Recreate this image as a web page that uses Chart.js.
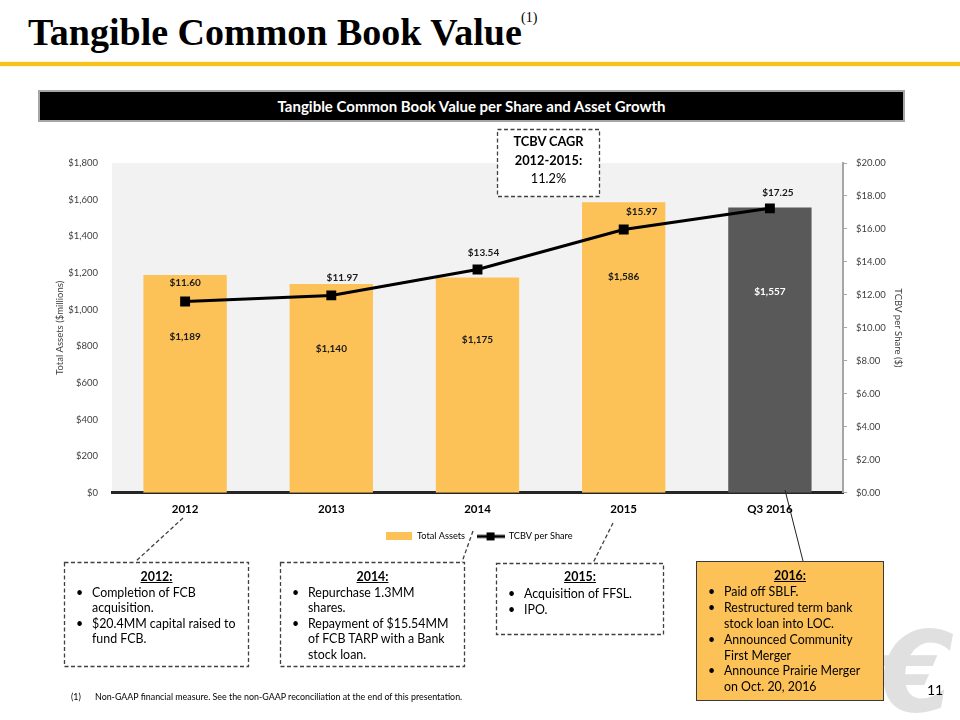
<!DOCTYPE html>
<html>
<head>
<meta charset="utf-8">
<script src="https://cdn.jsdelivr.net/npm/chart.js@4.4.1/dist/chart.umd.min.js"></script>
<style>
html,body{margin:0;padding:0;background:#fff;}
#page{position:relative;width:960px;height:720px;overflow:hidden;font-family:Lato,'Open Sans',sans-serif;color:#000;}
.abs{position:absolute;}
#title{left:28px;top:13px;font-family:'Liberation Serif',serif;font-weight:bold;font-size:38px;line-height:38px;white-space:nowrap;}
#titleSup{left:521px;top:11px;font-family:'Liberation Serif',serif;font-size:14px;line-height:14px;}
#rule{left:0;top:62px;width:960px;height:4px;background:#F6C31C;box-shadow:0 0 2px rgba(246,195,28,0.6);}
#header{left:38px;top:90px;width:863px;height:28px;background:#000;border:2px solid #a6a6a6;color:#fff;font-weight:bold;font-size:15px;text-align:center;line-height:28px;}
#chartWrap{left:0;top:140px;width:960px;height:420px;}
#overlay{left:0;top:0;}
#cagr{left:497px;top:132px;width:103px;text-align:center;font-size:12.8px;line-height:18.5px;}
.note{position:absolute;font-size:12.4px;line-height:15.6px;}
.nt{text-align:center;font-weight:bold;text-decoration:underline;}
.li{position:relative;padding-left:28px;white-space:nowrap;}
.li .b{position:absolute;left:12px;top:0;}
#foot{left:71px;top:691px;font-size:8.9px;line-height:12px;white-space:nowrap;}
#foot span{display:inline-block;width:24px;}
#pnum{left:920px;top:682px;width:30px;text-align:center;font-size:14px;line-height:16px;}
#logo{left:876px;top:616px;font-family:'DejaVu Sans',sans-serif;font-weight:bold;font-style:italic;font-size:112px;line-height:112px;color:#e0e0e0;}
</style>
</head>
<body>
<div id="page">
  <div id="title" class="abs">Tangible Common Book Value</div>
  <div id="titleSup" class="abs">(1)</div>
  <div id="rule" class="abs"></div>
  <div id="header" class="abs">Tangible Common Book Value per Share and Asset Growth</div>
  <div id="logo" class="abs">€</div>
  <div id="chartWrap" class="abs"><canvas id="chart" width="960" height="420"></canvas></div>
  <svg id="overlay" class="abs" width="960" height="720">
    <g stroke="#404040" stroke-width="1.3" stroke-dasharray="4,2.5" fill="none">
      <rect x="497.5" y="129.5" width="102" height="67" fill="#fff"/>
      <rect x="64.5" y="562.5" width="184" height="104"/>
      <rect x="280.5" y="562.5" width="184" height="104"/>
      <rect x="496.5" y="563.5" width="167" height="71"/>
      <line x1="183" y1="518" x2="135" y2="562"/>
      <line x1="473" y1="531" x2="462" y2="562"/>
      <line x1="613" y1="523" x2="593" y2="563"/>
    </g>
    <rect x="696.5" y="561.5" width="187" height="139" fill="#FCC257" stroke="#3a3a3a" stroke-width="1"/>
    <line x1="785" y1="490" x2="803" y2="561" stroke="#222" stroke-width="1"/>
  </svg>
  <div id="cagr" class="abs"><b>TCBV CAGR</b><br><b>2012-2015:</b><br>11.2%</div>
  <div class="note" style="left:64px;top:569px;width:185px;">
    <div class="nt">2012:</div>
    <div class="li"><span class="b">•</span>Completion of FCB<br>acquisition.</div>
    <div class="li"><span class="b">•</span>$20.4MM capital raised to<br>fund FCB.</div>
  </div>
  <div class="note" style="left:280px;top:569px;width:185px;">
    <div class="nt">2014:</div>
    <div class="li"><span class="b">•</span>Repurchase 1.3MM<br>shares.</div>
    <div class="li"><span class="b">•</span>Repayment of $15.54MM<br>of FCB TARP with a Bank<br>stock loan.</div>
  </div>
  <div class="note" style="left:496px;top:569px;width:168px;line-height:16.5px;">
    <div class="nt">2015:</div>
    <div class="li"><span class="b">•</span>Acquisition of FFSL.</div>
    <div class="li"><span class="b">•</span>IPO.</div>
  </div>
  <div class="note" style="left:696px;top:568px;width:188px;line-height:15.9px;">
    <div class="nt">2016:</div>
    <div class="li"><span class="b">•</span>Paid off SBLF.</div>
    <div class="li"><span class="b">•</span>Restructured term bank<br>stock loan into LOC.</div>
    <div class="li"><span class="b">•</span>Announced Community<br>First Merger</div>
    <div class="li"><span class="b">•</span>Announce Prairie Merger<br>on Oct. 20, 2016</div>
  </div>
  <div id="foot" class="abs"><span>(1)</span>Non-GAAP financial measure. See the non-GAAP reconciliation at the end of this presentation.</div>
  <div id="pnum" class="abs">11</div>
</div>
<script>
// ---- data ----
const categories = ['2012', '2013', '2014', '2015', 'Q3 2016'];
const totalAssets = [1189, 1140, 1175, 1586, 1557];
const tcbvPerShare = [11.60, 11.97, 13.54, 15.97, 17.25];
const assetAxis = [0, 1800, 200];   // min, max, step
const tcbvAxis = [0, 20, 2];        // min, max, step

// ---- style ----
const ORANGE = '#FCC257';
const GRAY = '#595959';
const FONT = 'Lato';
const barColors = categories.map((c, i) => i === categories.length - 1 ? GRAY : ORANGE);

function makeSwatchBar() {
  const c = document.createElement('canvas');
  c.width = 26; c.height = 8;
  const x = c.getContext('2d');
  x.fillStyle = ORANGE; x.fillRect(0, 0, 26, 8);
  return c;
}
function makeSwatchLine() {
  const c = document.createElement('canvas');
  c.width = 28; c.height = 10;
  const x = c.getContext('2d');
  x.fillStyle = '#000';
  x.fillRect(0, 3.5, 28, 3);
  x.fillRect(10, 1, 8, 8);
  return c;
}

const plotBg = {
  id: 'plotBg',
  beforeDraw(chart) {
    const { ctx, chartArea: a } = chart;
    ctx.save();
    ctx.fillStyle = '#f2f2f2';
    ctx.fillRect(a.left, a.top, a.right - a.left, a.bottom - a.top);
    ctx.restore();
  }
};

const valueLabels = {
  id: 'valueLabels',
  afterDatasetsDraw(chart, args, opts) {
    const ctx = chart.ctx;
    ctx.save();
    ctx.font = 'bold 10px ' + FONT;
    ctx.textAlign = 'center';
    ctx.textBaseline = 'middle';
    chart.getDatasetMeta(0).data.forEach((el, i) => {
      ctx.fillStyle = i === categories.length - 1 ? '#ffffff' : '#1a1a1a';
      ctx.fillText('$' + totalAssets[i].toLocaleString('en-US'), el.x, el.y + opts.assetDrop[i]);
    });
    chart.getDatasetMeta(1).data.forEach((p, i) => {
      ctx.fillStyle = '#1a1a1a';
      ctx.fillText('$' + tcbvPerShare[i].toFixed(2), p.x + opts.tcbvShift[i][0], p.y + opts.tcbvShift[i][1]);
    });
    ctx.restore();
  }
};

Chart.defaults.font.family = FONT;
Chart.defaults.color = '#404040';

new Chart(document.getElementById('chart'), {
  type: 'bar',
  data: {
    labels: categories,
    datasets: [
      {
        type: 'bar',
        label: 'Total Assets',
        data: totalAssets,
        backgroundColor: barColors,
        borderWidth: 0,
        barPercentage: 0.57,
        categoryPercentage: 1,
        yAxisID: 'y',
        order: 1
      },
      {
        type: 'line',
        label: 'TCBV per Share',
        data: tcbvPerShare,
        borderColor: '#000',
        backgroundColor: '#000',
        borderWidth: 3,
        pointStyle: 'rect',
        pointRadius: 7,
        pointBackgroundColor: '#000',
        pointBorderWidth: 0,
        tension: 0,
        yAxisID: 'y1',
        order: 0
      }
    ]
  },
  options: {
    responsive: false,
    devicePixelRatio: 1,
    animation: false,
    layout: { padding: { left: 50, right: 52, top: 23, bottom: 9 } },
    plugins: {
      tooltip: { enabled: false },
      legend: {
        position: 'bottom',
        labels: {
          usePointStyle: true,
          pointStyleWidth: 27,
          padding: 12,
          color: '#404040',
          font: { size: 9.2 },
          generateLabels: () => [
            { text: 'Total Assets', pointStyle: makeSwatchBar(), fillStyle: ORANGE, strokeStyle: ORANGE, lineWidth: 0, hidden: false, datasetIndex: 0 },
            { text: 'TCBV per Share', pointStyle: makeSwatchLine(), fillStyle: '#000', strokeStyle: '#000', lineWidth: 0, hidden: false, datasetIndex: 1 }
          ]
        }
      },
      valueLabels: {
        assetDrop: [62, 65, 62, 75, 84],
        tcbvShift: [[0, -19], [11, -18], [6, -17], [18, -18], [8, -16]]
      }
    },
    scales: {
      x: {
        grid: { display: false },
        border: { display: true, color: '#262626', width: 3 },
        ticks: { color: '#000', font: { size: 11.5, weight: 'bold' }, padding: 2 },
        afterFit: s => { s.height = 27; }
      },
      y: {
        position: 'left',
        min: assetAxis[0], max: assetAxis[1],
        grid: { display: false },
        border: { display: false },
        ticks: { stepSize: assetAxis[2], padding: 6, font: { size: 9.5 }, color: '#404040',
          callback: v => '$' + Number(v).toLocaleString('en-US') },
        title: { display: true, text: 'Total Assets ($millions)', font: { size: 9.5 }, color: '#404040' },
        afterFit: s => { s.width = 62; }
      },
      y1: {
        position: 'right',
        min: tcbvAxis[0], max: tcbvAxis[1],
        grid: { drawOnChartArea: false, drawTicks: true, tickLength: 4, color: '#a6a6a6' },
        border: { display: true, color: '#a6a6a6', width: 2 },
        ticks: { stepSize: tcbvAxis[2], padding: 9, font: { size: 9.5 }, color: '#404040',
          callback: v => '$' + Number(v).toFixed(2) },
        title: { display: true, text: 'TCBV per Share ($)', font: { size: 9.5 }, color: '#404040' },
        afterFit: s => { s.width = 65; }
      }
    }
  },
  plugins: [plotBg, valueLabels]
});
</script>
</body>
</html>
